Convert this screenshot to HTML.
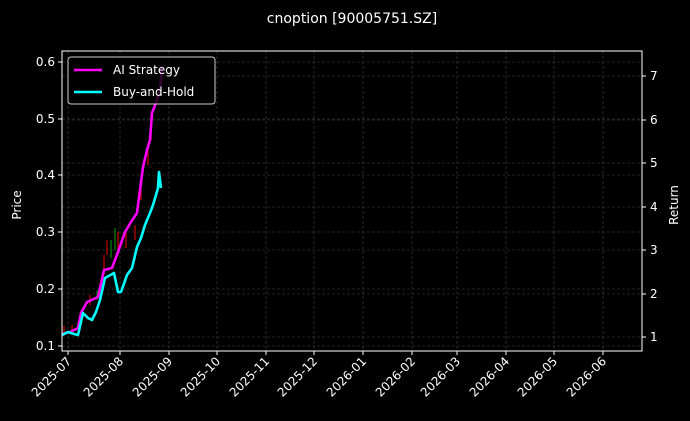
<!DOCTYPE html>
<html><head><style>body{margin:0;background:#000}svg{display:block}text{font-family:"DejaVu Sans","Liberation Sans",sans-serif;fill:#fff}</style></head><body>
<svg width="690" height="421" viewBox="0 0 690 421" xmlns="http://www.w3.org/2000/svg">
<rect width="690" height="421" fill="#000"/>
<text x="352" y="23" font-size="14" text-anchor="middle">cnoption [90005751.SZ]</text>
<g stroke="#444" stroke-width="0.6" stroke-dasharray="3,2">
<line x1="62" x2="642" y1="62" y2="62"/><line x1="62" x2="642" y1="119" y2="119"/><line x1="62" x2="642" y1="175" y2="175"/><line x1="62" x2="642" y1="232" y2="232"/><line x1="62" x2="642" y1="289" y2="289"/><line x1="62" x2="642" y1="346" y2="346"/>
<line x1="62" x2="642" y1="76" y2="76"/><line x1="62" x2="642" y1="120" y2="120"/><line x1="62" x2="642" y1="163" y2="163"/><line x1="62" x2="642" y1="207" y2="207"/><line x1="62" x2="642" y1="250" y2="250"/><line x1="62" x2="642" y1="294" y2="294"/><line x1="62" x2="642" y1="337" y2="337"/>
<line y1="51" y2="351" x1="68" x2="68"/><line y1="51" y2="351" x1="120" x2="120"/><line y1="51" y2="351" x1="169" x2="169"/><line y1="51" y2="351" x1="217" x2="217"/><line y1="51" y2="351" x1="266" x2="266"/><line y1="51" y2="351" x1="314" x2="314"/><line y1="51" y2="351" x1="363" x2="363"/><line y1="51" y2="351" x1="412" x2="412"/><line y1="51" y2="351" x1="457" x2="457"/><line y1="51" y2="351" x1="506" x2="506"/><line y1="51" y2="351" x1="554" x2="554"/><line y1="51" y2="351" x1="603" x2="603"/>
</g>
<g stroke-width="1.2">
<line x1="64" y1="326" x2="64" y2="336" stroke="#c00"/><line x1="72" y1="325" x2="72" y2="333" stroke="#c00"/><line x1="90" y1="295" x2="90" y2="305" stroke="#c00"/><line x1="97" y1="290" x2="97" y2="300" stroke="#080"/><line x1="104" y1="255" x2="104" y2="275" stroke="#c00"/><line x1="107" y1="240" x2="107" y2="255" stroke="#c00"/><line x1="111" y1="240" x2="111" y2="258" stroke="#080"/><line x1="115" y1="228" x2="115" y2="250" stroke="#080"/><line x1="118" y1="232" x2="118" y2="252" stroke="#c00"/><line x1="126" y1="228" x2="126" y2="248" stroke="#c00"/><line x1="135" y1="225" x2="135" y2="240" stroke="#c00"/><line x1="141" y1="175" x2="141" y2="200" stroke="#c00"/><line x1="148" y1="145" x2="148" y2="165" stroke="#c00"/><line x1="151" y1="115" x2="151" y2="140" stroke="#c00"/>
</g>
<polyline fill="none" stroke="#ff00ff" stroke-width="2.6" stroke-linejoin="round" points="62,334 70,332 78,328 81,313 87,302 98,297 104,270 112,268 118,252 125,232 131,222 137,213 140,190 143,167 147,150 150,140 152,113 157,100 160,90 162,66"/>
<polyline fill="none" stroke="#00ffff" stroke-width="2.6" stroke-linejoin="round" points="62,335 68,332 74,334 78,335 83,313 88,318 92,320 96,312 100,300 105,278 114,273 118,292 121,292 127,275 132,268 137,247 141,238 145,225 150,213 153,205 156,195 158,188 159,172 161,188"/>
<rect x="62" y="51" width="580" height="300" fill="none" stroke="#fff" stroke-width="1"/>
<g stroke="#fff" stroke-width="1">
<line x1="58" x2="62" y1="62" y2="62"/><line x1="58" x2="62" y1="119" y2="119"/><line x1="58" x2="62" y1="175" y2="175"/><line x1="58" x2="62" y1="232" y2="232"/><line x1="58" x2="62" y1="289" y2="289"/><line x1="58" x2="62" y1="346" y2="346"/>
<line x1="642" x2="646" y1="76" y2="76"/><line x1="642" x2="646" y1="120" y2="120"/><line x1="642" x2="646" y1="163" y2="163"/><line x1="642" x2="646" y1="207" y2="207"/><line x1="642" x2="646" y1="250" y2="250"/><line x1="642" x2="646" y1="294" y2="294"/><line x1="642" x2="646" y1="337" y2="337"/>
<line y1="351" y2="355" x1="68" x2="68"/><line y1="351" y2="355" x1="120" x2="120"/><line y1="351" y2="355" x1="169" x2="169"/><line y1="351" y2="355" x1="217" x2="217"/><line y1="351" y2="355" x1="266" x2="266"/><line y1="351" y2="355" x1="314" x2="314"/><line y1="351" y2="355" x1="363" x2="363"/><line y1="351" y2="355" x1="412" x2="412"/><line y1="351" y2="355" x1="457" x2="457"/><line y1="351" y2="355" x1="506" x2="506"/><line y1="351" y2="355" x1="554" x2="554"/><line y1="351" y2="355" x1="603" x2="603"/>
</g>
<g font-size="12" text-anchor="end">
<text x="55" y="66">0.6</text><text x="55" y="123">0.5</text><text x="55" y="179">0.4</text><text x="55" y="236">0.3</text><text x="55" y="293">0.2</text><text x="55" y="350">0.1</text>
</g>
<g font-size="12">
<text x="650" y="80">7</text><text x="650" y="124">6</text><text x="650" y="167">5</text><text x="650" y="211">4</text><text x="650" y="254">3</text><text x="650" y="298">2</text><text x="650" y="341">1</text>
</g>
<g font-size="12" text-anchor="end">
<text transform="translate(72,362) rotate(-45)">2025-07</text><text transform="translate(124,362) rotate(-45)">2025-08</text><text transform="translate(173,362) rotate(-45)">2025-09</text><text transform="translate(221,362) rotate(-45)">2025-10</text><text transform="translate(270,362) rotate(-45)">2025-11</text><text transform="translate(318,362) rotate(-45)">2025-12</text><text transform="translate(367,362) rotate(-45)">2026-01</text><text transform="translate(416,362) rotate(-45)">2026-02</text><text transform="translate(461,362) rotate(-45)">2026-03</text><text transform="translate(510,362) rotate(-45)">2026-04</text><text transform="translate(558,362) rotate(-45)">2026-05</text><text transform="translate(607,362) rotate(-45)">2026-06</text>
</g>
<text transform="translate(21,205) rotate(-90)" font-size="12" text-anchor="middle">Price</text>
<text transform="translate(678,205) rotate(-90)" font-size="12" text-anchor="middle">Return</text>
<rect x="68" y="57" width="147" height="47" rx="3" fill="#000" fill-opacity="0.8" stroke="#ccc" stroke-width="1"/>
<line x1="74" x2="102" y1="70" y2="70" stroke="#ff00ff" stroke-width="2.6"/>
<line x1="74" x2="102" y1="92" y2="92" stroke="#00ffff" stroke-width="2.6"/>
<text x="113" y="74" font-size="12">AI Strategy</text>
<text x="113" y="96" font-size="12">Buy-and-Hold</text>
</svg>
</body></html>
